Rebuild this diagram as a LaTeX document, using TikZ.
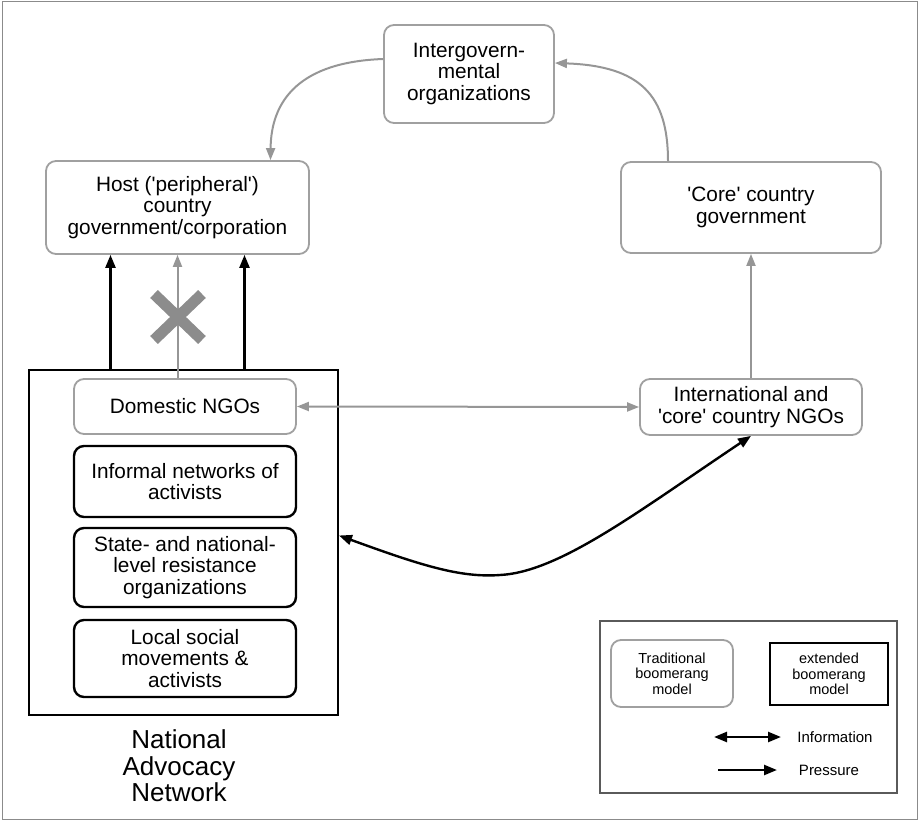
\documentclass[tikz,border=0pt]{standalone}
\usepackage{fontspec}
\setmainfont{Liberation Sans}
\usetikzlibrary{arrows.meta}
\definecolor{boxgrey}{RGB}{160,160,160}
\definecolor{linegrey}{RGB}{150,150,150}
\definecolor{crossgrey}{RGB}{140,140,140}
\definecolor{framegrey}{RGB}{90,90,90}
\begin{document}
\begin{tikzpicture}[x=1pt,y=-1pt]
    \tikzstyle{greybox}=[draw=boxgrey, line width=1.8pt, rounded corners=10pt, align=center, inner sep=0pt, font=\fontsize{20.8}{21.5}\selectfont]
    \tikzstyle{blackbox}=[draw=black, line width=2.4pt, rounded corners=10pt, align=center, inner sep=0pt, font=\fontsize{20.8}{21.5}\selectfont]
    \tikzstyle{info}=[linegrey, line width=2pt, -{Triangle[length=12pt,width=9pt]}]
    \tikzstyle{press}=[black, line width=2.4pt, -{Triangle[length=13pt,width=10pt]}]
    \tikzstyle{legtext}=[align=center, font=\fontsize{14.5}{15.5}\selectfont]
    \useasboundingbox (0,0) rectangle (919,821);
    \draw[framegrey!70, line width=1pt] (2,2) rectangle (917,819);
    % boomerang boxes
    \node[greybox, minimum width=170pt, minimum height=98pt] (ig) at (469,74) {Intergovern-\\mental\\organizations};
    \node[greybox, minimum width=263pt, minimum height=93pt] (host) at (177.5,207.5) {Host (\textquotesingle peripheral\textquotesingle)\\country\\government/corporation};
    \node[greybox, minimum width=260pt, minimum height=91pt] (core) at (751,207.5) {\textquotesingle Core\textquotesingle{} country\\government};
    \node[greybox, minimum width=222pt, minimum height=56pt] (intl) at (751,407) {International and\\\textquotesingle core\textquotesingle{} country NGOs};
    % national advocacy network
    \node[draw, line width=2pt, minimum width=309pt, minimum height=345pt] (nan) at (183.5,542.5) {};
    \node[greybox, minimum width=222pt, minimum height=55pt] (dom) at (185,406.5) {Domestic NGOs};
    \node[blackbox, minimum width=222pt, minimum height=71pt] (inf) at (185,481.5) {Informal networks of\\activists};
    \node[blackbox, minimum width=222pt, minimum height=79pt] (state) at (185,567.5) {State- and national-\\level resistance\\organizations};
    \node[blackbox, minimum width=222pt, minimum height=77pt] (local) at (185,658.5) {Local social\\movements \&\\activists};
    \node[align=center, font=\fontsize{26}{26.5}\selectfont] (nanlbl) at (179,766) {National\\Advocacy\\Network};
    % arrows
    \draw[press] ([xshift=-67pt]host.south |- nan.north) -- ([xshift=-67pt]host.south);
    \draw[press] ([xshift=67pt]host.south |- nan.north) -- ([xshift=67pt]host.south);
    \draw[info] (dom.north -| host.south) -- (host.south);
    \coordinate (xm) at (178,317);
    \draw[crossgrey, line width=11pt] ([shift={(-24,-23)}]xm) -- ([shift={(24,23)}]xm);
    \draw[crossgrey, line width=11pt] ([shift={(-24,23)}]xm) -- ([shift={(24,-23)}]xm);
    \draw[info, {Triangle[length=12pt,width=9pt]}-{Triangle[length=12pt,width=9pt]}] (dom.east) -- (intl.west);
    \draw[info] (intl.north) -- (core.south);
    \draw[info] ([xshift=-83pt]core.north) .. controls (668,95) and (640,66) .. ([yshift=11pt]ig.east);
    \draw[info] ([yshift=15pt]ig.west) .. controls (300,62) and (271,100) .. ([xshift=93pt]host.north);
    \draw[press, {Triangle[length=13pt,width=10pt]}-{Triangle[length=13pt,width=10pt]}] ([yshift=7pt]nan.east) .. controls (420,565) and (460,578) .. (500,575) .. controls (560,572) and (640,510) .. (intl.south);
    % legend
    \node[draw=framegrey, line width=1.6pt, minimum width=297pt, minimum height=172pt] (leg) at (748.5,707) {};
    \node[greybox, legtext, minimum width=122pt, minimum height=67pt] (trad) at (672,673.5) {Traditional\\boomerang\\model};
    \node[draw, line width=2.6pt, legtext, minimum width=118pt, minimum height=62pt] (ext) at (829,674) {extended\\boomerang\\model};
    \coordinate (ia1) at (714,737);
    \coordinate (ia2) at (781,737);
    \coordinate (pa1) at (718,770);
    \coordinate (pa2) at (777,770);
    \draw[press, {Triangle[length=13pt,width=10pt]}-{Triangle[length=13pt,width=10pt]}] (ia1) -- (ia2);
    \draw[press] (pa1) -- (pa2);
    \node[font=\fontsize{15}{17}\selectfont] (infolbl) at (835,737) {Information};
    \node[font=\fontsize{15}{17}\selectfont] (presslbl) at (829,770) {Pressure};
\end{tikzpicture}
\end{document}
